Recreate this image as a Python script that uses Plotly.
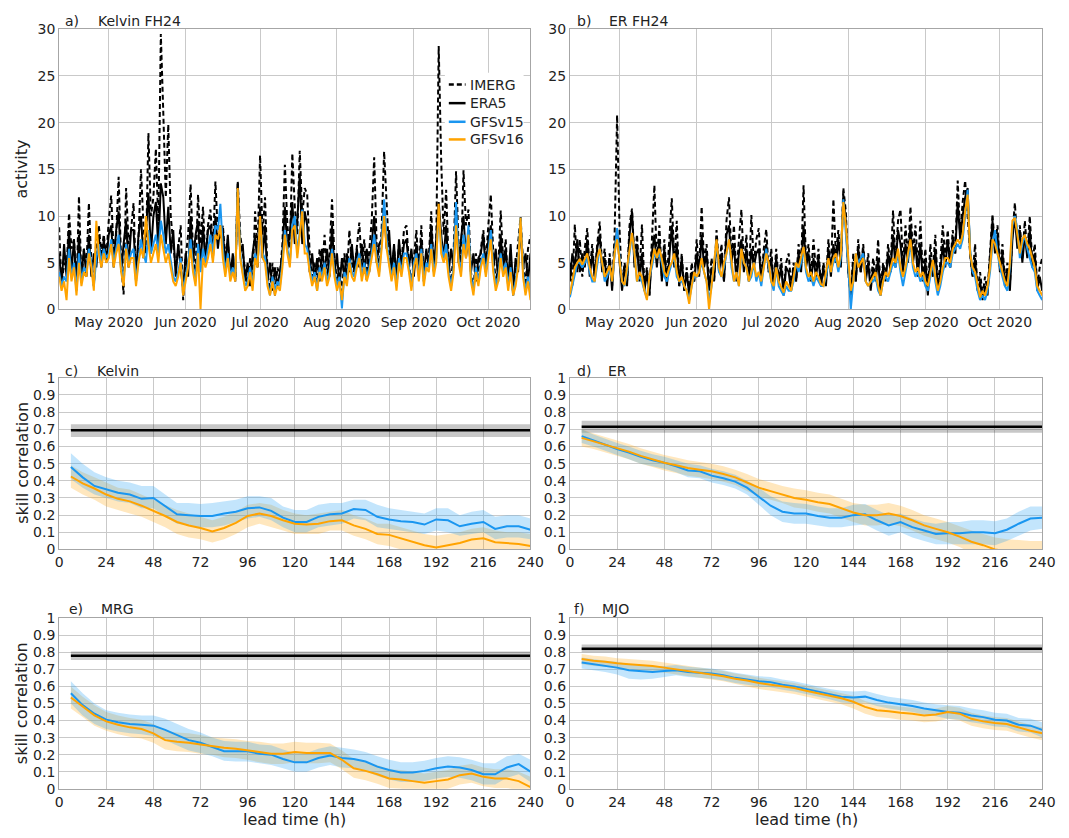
import pandas as pd
import plotly.graph_objects as go

# ---------------- time-series data (daily, starting 2020-04-11) ----------------
start_date = "2020-04-11"
n_days = 191
dates = pd.date_range(start_date, periods=n_days, freq="D")

month_ticks = ["2020-05-01", "2020-06-01", "2020-07-01", "2020-08-01", "2020-09-01", "2020-10-01"]
month_labels = ["May 2020", "Jun 2020", "Jul 2020", "Aug 2020", "Sep 2020", "Oct 2020"]

kelvin_imerg = [
    8.8, 2.5, 5.0, 4.0, 10.3, 6.5, 7.5, 2.0, 12.1, 3.0,
    6.5, 4.5, 11.4, 5.0, 2.5, 7.5, 9.0, 6.0, 8.0, 5.5,
    9.5, 12.2, 6.0, 8.0, 14.2, 5.0, 1.6, 13.0, 7.0, 8.5,
    11.4, 3.0, 7.5, 15.0, 9.0, 6.0, 18.9, 10.0, 12.0, 17.2,
    9.0, 29.5, 21.0, 12.0, 19.8, 10.0, 7.0, 4.5, 6.5, 9.0,
    1.0, 5.5, 8.0, 13.4, 6.0, 4.0, 12.3, 7.0, 11.0, 5.0,
    9.0, 10.7, 6.5, 13.7, 8.0, 7.5, 9.0, 5.5, 7.5, 3.5,
    5.0, 3.2, 13.7, 8.0, 6.0, 4.0, 2.5, 5.5, 3.0, 10.5,
    6.5, 16.5, 8.0, 12.0, 4.0, 2.0, 5.0, 1.5, 4.5, 3.5,
    7.0, 15.5, 9.0, 6.5, 16.7, 11.0, 8.0, 17.0, 10.0, 13.0,
    12.3, 6.0, 3.5, 5.0, 2.5, 6.5, 4.0, 8.0, 3.5, 6.0,
    11.8, 5.5, 3.0, 4.5, 1.5, 6.0, 3.5, 8.5, 5.0, 4.0,
    6.5, 9.3, 4.5, 7.5, 3.0, 6.0, 9.5, 16.3, 7.0, 4.5,
    8.5, 16.9, 11.0, 6.0, 4.0, 6.5, 3.5, 7.0, 5.0, 8.5,
    9.0, 5.0, 2.5, 6.0, 8.5, 4.0, 9.0, 3.0, 6.0, 5.5,
    10.5, 4.0, 7.0, 28.2, 16.0, 8.0, 12.8, 5.0, 3.0, 6.0,
    14.8, 7.0, 5.0, 14.9, 9.0, 10.7, 4.0, 2.0, 6.0, 3.5,
    6.5, 8.5, 5.0, 9.0, 12.3, 6.0, 3.0, 4.5, 10.6, 5.0,
    7.5, 2.5, 6.0, 1.5, 4.5, 7.0, 9.9, 5.0, 2.5, 6.5, 7.9,
]
kelvin_era5 = [
    6.0, 2.5, 7.0, 3.5, 8.5, 4.0, 7.5, 2.5, 8.0, 3.5,
    6.5, 3.5, 8.0, 3.5, 6.0, 4.5, 8.0, 4.5, 7.5, 5.0,
    8.0, 9.0, 4.5, 8.5, 10.5, 4.0, 7.0, 9.5, 4.5, 8.5,
    8.5, 3.5, 8.0, 10.0, 5.5, 8.5, 12.5, 6.0, 10.0, 11.5,
    6.5, 13.5, 12.0, 7.0, 11.0, 6.0, 8.5, 3.5, 7.0, 4.5,
    2.0, 6.0, 3.5, 10.0, 5.0, 8.0, 9.5, 4.5, 9.0, 5.0,
    8.5, 9.0, 5.5, 10.0, 6.5, 9.0, 8.5, 4.5, 8.0, 3.5,
    6.0, 3.0, 13.5, 6.0, 7.0, 3.0, 5.0, 2.5, 6.0, 8.0,
    4.5, 11.0, 5.5, 9.0, 3.0, 5.0, 2.0, 4.5, 2.5, 4.0,
    6.0, 11.0, 6.5, 8.0, 11.5, 7.0, 9.5, 14.5, 7.0, 10.5,
    9.0, 4.0, 6.0, 3.0, 5.5, 3.0, 6.5, 4.0, 6.5, 3.5,
    9.0, 4.0, 6.0, 2.5, 5.5, 3.5, 6.0, 4.0, 7.0, 4.0,
    6.5, 4.5, 7.0, 4.0, 6.5, 4.0, 7.5, 10.0, 5.0, 7.0,
    7.5, 11.0, 6.5, 8.5, 4.0, 7.0, 3.0, 7.5, 4.5, 7.0,
    7.5, 4.5, 6.5, 3.5, 7.0, 4.0, 7.5, 3.5, 6.5, 4.5,
    9.0, 4.5, 7.5, 11.5, 8.0, 5.5, 9.0, 4.0, 6.5, 4.5,
    11.0, 5.0, 7.5, 10.0, 5.5, 8.0, 4.0, 6.0, 3.0, 5.5,
    6.0, 8.0, 4.0, 7.5, 9.0, 4.5, 6.5, 3.0, 8.0, 4.0,
    6.5, 3.0, 7.0, 2.0, 5.5, 4.0, 9.0, 4.5, 6.0, 3.0, 6.0,
]
kelvin_gfsv15 = [
    4.0, 2.5, 3.5, 3.0, 6.5, 3.5, 5.0, 2.0, 6.0, 3.0,
    4.5, 4.0, 6.5, 5.0, 2.5, 5.5, 7.0, 5.0, 6.5, 5.5,
    6.0, 7.5, 5.0, 6.5, 8.0, 4.5, 3.0, 7.0, 5.0, 6.0,
    6.5, 3.0, 5.5, 7.5, 6.0, 5.0, 8.5, 6.0, 7.0, 8.0,
    6.0, 9.5, 8.0, 6.0, 7.0, 5.0, 3.5, 3.0, 4.0, 5.5,
    2.0, 3.5, 5.0, 7.5, 4.5, 3.0, 7.0, 4.0, 6.5, 5.0,
    6.5, 8.0, 6.0, 9.0, 8.5, 11.3, 6.5, 4.0, 6.0, 3.5,
    4.5, 3.5, 12.8, 6.0, 4.0, 2.5, 3.0, 4.5, 2.5, 6.0,
    5.0, 9.5, 6.0, 5.5, 3.0, 1.5, 3.5, 2.0, 3.0, 2.5,
    5.0, 8.5, 6.5, 5.0, 9.0, 10.0, 6.0, 8.5, 10.7, 7.0,
    6.5, 4.5, 3.0, 4.0, 2.0, 4.5, 3.5, 5.0, 3.0, 4.0,
    6.5, 4.0, 2.5, 3.5, 0.1, 4.0, 3.0, 5.5, 4.0, 3.5,
    5.0, 6.0, 3.5, 5.0, 3.5, 4.5, 6.0, 8.0, 5.5, 4.0,
    7.0, 11.8, 7.5, 5.0, 3.5, 5.0, 2.5, 5.5, 4.0, 6.0,
    6.0, 4.5, 2.5, 5.0, 6.0, 3.5, 6.5, 3.0, 5.0, 4.5,
    7.0, 4.0, 5.5, 10.0, 7.0, 5.5, 7.0, 4.0, 2.5, 4.5,
    11.5, 5.5, 4.0, 8.0, 6.0, 9.0, 3.5, 2.0, 4.5, 3.0,
    5.0, 6.0, 4.0, 6.0, 8.5, 4.5, 2.5, 3.5, 6.0, 4.0,
    5.0, 2.5, 4.5, 1.5, 3.0, 5.0, 9.8, 4.0, 2.0, 3.5, 1.5,
]
kelvin_gfsv16 = [
    3.5, 2.0, 3.0, 1.0, 5.5, 3.0, 4.5, 1.5, 5.0, 2.5,
    4.0, 3.5, 6.0, 4.5, 2.0, 9.5, 6.0, 4.5, 6.0, 5.0,
    5.5, 7.0, 4.5, 6.0, 7.0, 4.0, 2.5, 6.5, 4.5, 5.5,
    5.5, 2.5, 5.0, 6.5, 5.5, 10.0, 7.0, 5.0, 6.0, 7.0,
    5.0, 8.0, 6.5, 5.0, 6.0, 4.5, 3.0, 2.5, 3.5, 5.0,
    1.5, 3.0, 4.5, 6.5, 4.0, 2.5, 6.0, 0.0, 5.5, 4.5,
    5.5, 7.0, 5.0, 8.0, 7.5, 9.0, 5.5, 3.5, 5.5, 3.0,
    4.0, 3.0, 13.0, 5.5, 3.5, 2.0, 2.5, 4.0, 2.0, 5.5,
    4.5, 10.0, 5.5, 5.0, 2.5, 1.5, 3.0, 1.5, 2.5, 2.0,
    4.5, 8.0, 6.0, 4.5, 8.5, 9.0, 5.5, 8.0, 10.5, 6.0,
    6.0, 4.0, 2.5, 3.5, 2.0, 4.0, 3.0, 4.5, 2.5, 3.5,
    6.0, 3.5, 2.0, 3.0, 1.0, 3.5, 2.5, 5.0, 3.5, 3.0,
    4.5, 5.5, 3.0, 4.5, 3.0, 4.0, 5.5, 7.0, 5.0, 3.5,
    6.5, 10.0, 6.5, 4.5, 3.0, 4.5, 2.0, 5.0, 3.5, 5.5,
    5.5, 4.0, 2.0, 4.5, 5.5, 3.0, 6.0, 2.5, 4.5, 4.0,
    6.5, 3.5, 5.0, 11.3, 6.0, 5.0, 6.0, 3.5, 2.0, 4.0,
    9.0, 5.0, 3.5, 7.0, 5.5, 8.0, 3.0, 1.5, 4.0, 2.5,
    4.5, 5.5, 3.5, 5.5, 7.5, 4.0, 2.0, 3.0, 5.5, 3.5,
    4.5, 2.0, 4.0, 1.5, 2.5, 4.5, 9.8, 3.5, 1.5, 3.0, 1.0,
]

er_imerg = [
    5.0, 2.5, 9.1, 4.0, 7.5, 3.5, 6.5, 8.7, 4.0, 7.0,
    3.5, 7.0, 9.4, 4.5, 6.5, 3.0, 6.0, 2.5, 8.0, 20.8,
    8.5, 2.5, 5.0, 3.0, 9.0, 10.8, 5.0, 8.0, 3.5, 9.1,
    2.5, 4.5, 1.5, 7.0, 13.3, 5.0, 9.0, 3.5, 7.5, 3.0,
    7.0, 11.9, 5.0, 9.5, 2.5, 6.0, 2.0, 4.5, 1.5, 5.0,
    3.0, 7.5, 4.0, 11.0, 5.0, 7.0, 2.5, 5.5, 3.0, 8.5,
    4.5, 7.0, 3.0, 9.5, 12.0, 5.5, 9.0, 3.5, 7.5, 10.7,
    4.5, 8.0, 3.0, 10.1, 5.0, 7.5, 8.7, 3.0, 6.5, 8.6,
    4.0, 6.5, 2.5, 6.5, 3.0, 5.5, 2.0, 5.0, 6.0, 2.5,
    5.0, 3.0, 7.0, 4.5, 13.3, 5.0, 7.0, 3.5, 7.5, 4.0,
    6.5, 2.5, 5.0, 3.0, 7.5, 4.0, 11.8, 6.0, 8.5, 5.0,
    13.0, 10.5, 4.0, 1.5, 6.0, 3.0, 7.5, 4.0, 7.0, 3.5,
    6.0, 2.5, 5.5, 3.5, 7.5, 2.0, 5.0, 3.5, 7.0, 4.5,
    10.6, 5.0, 9.5, 10.7, 4.5, 9.0, 5.5, 11.0, 6.0, 9.0,
    4.5, 9.5, 3.5, 6.5, 2.0, 7.0, 4.0, 8.0, 2.5, 5.0,
    9.0, 5.5, 8.5, 4.5, 8.5, 6.0, 13.8, 8.0, 11.5, 13.8,
    10.0, 6.0, 3.5, 7.0, 2.0, 4.0, 1.5, 3.5, 2.0, 6.0,
    10.2, 6.5, 9.0, 4.5, 7.0, 3.0, 5.0, 2.5, 8.0, 11.4,
    7.0, 9.0, 5.5, 9.5, 6.0, 10.0, 5.0, 7.0, 2.5, 4.5, 5.5,
]
er_era5 = [
    3.0, 6.0, 4.5, 7.5, 4.0, 6.0, 4.5, 7.5, 3.5, 6.0,
    3.5, 6.5, 8.0, 4.0, 5.5, 2.5, 5.5, 2.0, 6.5, 8.5,
    5.0, 2.0, 4.5, 2.5, 8.0, 10.5, 4.5, 7.0, 3.0, 6.0,
    2.0, 4.0, 1.5, 6.0, 8.0, 4.5, 7.5, 3.0, 6.5, 2.5,
    5.5, 9.0, 4.5, 7.0, 2.5, 5.5, 2.0, 4.0, 1.5, 4.0,
    3.0, 6.0, 3.5, 8.0, 4.5, 6.0, 2.0, 4.5, 3.0, 7.5,
    4.0, 6.0, 3.0, 8.0, 9.0, 5.0, 7.0, 3.0, 6.0, 7.5,
    4.0, 6.5, 3.0, 6.5, 4.5, 6.0, 6.5, 3.0, 5.5, 7.0,
    4.0, 5.5, 2.5, 5.5, 3.0, 4.5, 1.5, 4.5, 4.0, 2.0,
    4.5, 3.0, 6.0, 4.0, 9.0, 4.5, 6.0, 3.0, 5.5, 3.5,
    5.5, 2.5, 4.5, 2.5, 6.5, 3.5, 7.0, 5.0, 7.5, 4.5,
    12.3, 9.5, 4.0, 1.5, 5.0, 3.0, 6.5, 4.0, 6.5, 3.0,
    5.0, 2.0, 4.5, 3.0, 5.5, 1.5, 4.5, 3.0, 6.0, 4.0,
    8.0, 4.5, 8.5, 7.0, 4.0, 7.0, 5.0, 9.0, 5.0, 7.0,
    3.5, 7.0, 3.0, 5.0, 1.5, 5.5, 3.5, 6.5, 2.0, 4.0,
    7.0, 4.5, 7.5, 4.5, 7.5, 6.0, 11.5, 7.5, 10.0, 12.0,
    13.0, 6.0, 3.5, 5.5, 2.0, 3.0, 1.0, 2.5, 1.5, 5.0,
    9.5, 6.0, 8.0, 4.0, 6.0, 2.5, 4.0, 2.0, 7.5, 10.0,
    6.5, 8.5, 5.0, 8.0, 5.5, 8.5, 4.5, 6.0, 2.0, 3.5, 2.0,
]
er_gfsv15 = [
    1.3, 2.5, 4.0, 5.0, 5.0, 4.5, 5.0, 5.5, 4.0, 3.0,
    3.0, 5.0, 6.5, 5.0, 3.0, 3.5, 4.5, 3.0, 6.0, 8.7,
    5.5, 3.0, 2.5, 4.0, 6.0, 8.0, 6.0, 3.0, 3.5, 3.0,
    2.0, 1.2, 3.5, 4.5, 6.0, 5.5, 6.0, 5.0, 3.5, 3.0,
    4.0, 5.0, 5.5, 3.5, 3.0, 3.0, 2.5, 2.0, 1.0, 2.5,
    3.5, 3.5, 4.0, 5.0, 4.0, 3.0, 1.0, 2.5, 5.0, 7.0,
    4.0, 3.5, 4.5, 6.0, 7.5, 4.5, 3.0, 4.0, 2.5, 6.0,
    5.0, 4.5, 3.0, 3.5, 5.0, 3.0, 4.0, 2.5, 4.5, 6.5,
    4.5, 3.0, 2.0, 4.5, 2.5, 2.0, 1.5, 2.5, 2.0, 2.0,
    3.0, 5.0, 4.0, 5.0, 6.5, 4.0, 3.0, 3.5, 2.5, 3.5,
    3.0, 2.5, 2.5, 3.5, 5.0, 4.0, 5.0, 5.5, 4.0, 5.5,
    11.8, 8.5, 4.5, 0.0, 3.0, 6.0, 5.0, 5.5, 6.0, 3.0,
    2.5, 3.0, 3.0, 3.5, 2.0, 1.5, 3.0, 3.5, 3.0, 4.0,
    5.0, 4.5, 6.0, 4.0, 2.5, 4.0, 5.5, 7.0, 4.5, 3.5,
    4.0, 3.0, 3.5, 2.5, 2.0, 3.5, 5.0, 3.0, 1.5, 2.5,
    4.0, 5.0, 5.0, 4.5, 6.0, 6.5, 7.0, 6.5, 7.5, 10.0,
    12.8, 6.5, 4.0, 3.5, 2.0, 1.0, 1.5, 1.0, 2.0, 4.0,
    7.0, 8.5, 6.0, 4.5, 3.5, 2.5, 2.0, 4.5, 9.0, 10.0,
    8.5, 5.5, 7.0, 8.0, 6.5, 5.5, 4.5, 4.0, 2.0, 1.5, 1.0,
]
er_gfsv16 = [
    1.6, 3.0, 4.5, 5.0, 5.4, 4.8, 5.5, 6.0, 4.5, 3.5,
    3.0, 5.5, 6.5, 5.0, 3.5, 4.0, 4.7, 3.0, 6.0, 7.5,
    5.0, 3.0, 2.6, 4.5, 6.5, 8.2, 6.0, 3.0, 4.0, 3.5,
    2.0, 1.0, 3.5, 5.0, 6.5, 5.5, 6.5, 5.4, 4.0, 3.5,
    4.5, 5.0, 6.0, 4.0, 3.0, 3.5, 2.5, 2.0, 0.6, 2.5,
    4.0, 3.5, 4.0, 5.5, 4.0, 3.0, 0.0, 2.5, 5.0, 7.5,
    4.5, 3.5, 5.0, 6.0, 7.5, 5.0, 3.0, 4.0, 2.5, 6.5,
    5.0, 4.5, 3.0, 4.0, 5.0, 3.5, 4.0, 3.0, 4.5, 6.0,
    5.0, 3.0, 2.5, 4.5, 3.0, 2.3, 1.8, 3.0, 2.5, 2.0,
    3.5, 5.0, 4.5, 5.5, 6.7, 4.5, 3.5, 4.0, 3.0, 4.0,
    3.5, 2.7, 2.5, 4.0, 5.5, 4.0, 5.5, 6.0, 4.5, 6.0,
    11.5, 9.0, 5.0, 2.0, 3.0, 6.0, 4.5, 5.0, 5.5, 3.0,
    2.5, 3.0, 3.5, 4.0, 2.5, 1.5, 3.0, 4.0, 3.5, 4.5,
    5.5, 5.0, 6.5, 4.5, 3.5, 4.5, 6.0, 7.5, 5.0, 4.0,
    4.5, 3.5, 4.0, 3.0, 2.5, 4.0, 5.3, 3.5, 2.0, 3.0,
    4.5, 5.5, 5.5, 5.0, 6.5, 7.0, 7.5, 7.0, 8.0, 10.5,
    12.3, 6.0, 4.5, 4.0, 2.5, 1.3, 2.0, 1.5, 2.5, 4.5,
    7.5, 7.0, 6.0, 5.0, 4.0, 3.0, 2.5, 5.0, 9.5, 9.8,
    8.0, 6.0, 7.5, 8.0, 7.0, 6.5, 5.5, 4.5, 2.5, 2.0, 1.5,
]

# ---------------- skill-correlation data (lead times 6..240 h) ----------------
lead_hours = list(range(6, 241, 6))
lead_ticks = [0, 24, 48, 72, 96, 120, 144, 168, 192, 216, 240]
era5_x = [6, 240]

c_era5 = [0.695, 0.695]; c_era5_lo = [0.655, 0.655]; c_era5_hi = [0.73, 0.73]
c_v15 = [0.48,0.42,0.37,0.35,0.33,0.32,0.295,0.30,0.25,0.205,0.20,0.195,0.195,0.21,0.22,0.24,0.245,0.225,0.185,0.16,
         0.16,0.19,0.205,0.21,0.235,0.23,0.19,0.175,0.165,0.16,0.145,0.175,0.17,0.135,0.15,0.16,0.12,0.135,0.135,0.115]
c_v15_hi = [0.56,0.50,0.45,0.42,0.40,0.39,0.37,0.37,0.32,0.27,0.27,0.265,0.27,0.28,0.29,0.31,0.31,0.30,0.25,0.23,
            0.23,0.26,0.27,0.27,0.29,0.29,0.26,0.24,0.23,0.22,0.21,0.24,0.24,0.20,0.22,0.23,0.19,0.20,0.20,0.18]
c_v15_lo = [0.41,0.36,0.32,0.30,0.28,0.27,0.24,0.24,0.19,0.15,0.14,0.13,0.13,0.14,0.16,0.18,0.19,0.17,0.13,0.10,
            0.10,0.13,0.14,0.15,0.18,0.17,0.13,0.12,0.11,0.10,0.09,0.11,0.10,0.08,0.09,0.10,0.06,0.07,0.07,0.06]
c_v16 = [0.425,0.385,0.355,0.32,0.295,0.28,0.255,0.225,0.195,0.16,0.14,0.125,0.105,0.125,0.155,0.195,0.21,0.195,0.17,0.15,
         0.145,0.15,0.165,0.17,0.14,0.12,0.09,0.085,0.065,0.045,0.025,0.012,0.025,0.038,0.058,0.065,0.042,0.035,0.032,0.02]
c_v16_hi = [0.49,0.45,0.42,0.39,0.36,0.35,0.32,0.29,0.26,0.23,0.21,0.19,0.17,0.19,0.22,0.26,0.27,0.26,0.23,0.21,
            0.20,0.21,0.22,0.23,0.20,0.18,0.15,0.15,0.13,0.11,0.09,0.08,0.09,0.10,0.12,0.13,0.11,0.10,0.10,0.09]
c_v16_lo = [0.36,0.32,0.29,0.25,0.23,0.21,0.19,0.16,0.13,0.09,0.07,0.06,0.04,0.06,0.09,0.13,0.15,0.13,0.11,0.09,
            0.09,0.09,0.11,0.11,0.08,0.06,0.03,0.02,0.0,-0.02,-0.04,-0.05,-0.04,-0.03,-0.01,0.0,-0.02,-0.03,-0.03,-0.04]

d_era5 = [0.715, 0.715]; d_era5_lo = [0.68, 0.68]; d_era5_hi = [0.75, 0.75]
d_v15 = [0.66,0.635,0.61,0.585,0.565,0.54,0.52,0.505,0.485,0.46,0.455,0.43,0.415,0.395,0.36,0.31,0.255,0.22,0.21,0.21,
         0.195,0.185,0.185,0.2,0.205,0.17,0.14,0.16,0.13,0.11,0.09,0.095,0.095,0.1,0.1,0.095,0.115,0.15,0.18,0.185]
d_v15_hi = [0.70,0.67,0.645,0.62,0.60,0.575,0.555,0.54,0.52,0.50,0.49,0.47,0.455,0.435,0.40,0.36,0.31,0.28,0.27,0.265,
            0.25,0.24,0.24,0.26,0.265,0.23,0.20,0.21,0.18,0.16,0.15,0.16,0.16,0.17,0.17,0.165,0.18,0.22,0.25,0.25]
d_v15_lo = [0.62,0.60,0.575,0.55,0.525,0.50,0.485,0.47,0.45,0.42,0.415,0.39,0.375,0.355,0.32,0.26,0.20,0.16,0.15,0.15,
            0.14,0.13,0.13,0.14,0.145,0.11,0.08,0.10,0.07,0.05,0.03,0.03,0.03,0.03,0.03,0.025,0.05,0.08,0.11,0.12]
d_v16 = [0.65,0.63,0.61,0.59,0.57,0.545,0.525,0.505,0.49,0.475,0.465,0.455,0.44,0.42,0.39,0.36,0.34,0.32,0.30,0.29,
         0.275,0.265,0.24,0.215,0.20,0.20,0.21,0.195,0.17,0.14,0.12,0.10,0.075,0.045,0.025,0.0,-0.01,-0.02,-0.03,-0.04]
d_v16_hi = [0.70,0.675,0.655,0.635,0.615,0.59,0.57,0.55,0.535,0.52,0.51,0.50,0.485,0.465,0.44,0.41,0.39,0.37,0.355,0.345,
            0.33,0.32,0.295,0.27,0.26,0.26,0.27,0.255,0.23,0.20,0.18,0.16,0.135,0.11,0.09,0.07,0.06,0.055,0.05,0.05]
d_v16_lo = [0.60,0.585,0.565,0.545,0.525,0.50,0.48,0.46,0.445,0.43,0.42,0.41,0.395,0.375,0.34,0.31,0.29,0.27,0.245,0.235,
            0.22,0.21,0.185,0.16,0.14,0.14,0.15,0.135,0.11,0.08,0.06,0.04,0.015,-0.02,-0.04,-0.07,-0.08,-0.09,-0.1,-0.11]

e_era5 = [0.78, 0.78]; e_era5_lo = [0.755, 0.755]; e_era5_hi = [0.805, 0.805]
e_v15 = [0.56,0.49,0.44,0.405,0.39,0.38,0.375,0.37,0.345,0.315,0.285,0.27,0.245,0.22,0.22,0.22,0.205,0.20,0.175,0.155,
         0.155,0.18,0.195,0.18,0.175,0.16,0.13,0.11,0.095,0.095,0.105,0.12,0.13,0.125,0.11,0.085,0.085,0.125,0.145,0.10]
e_v15_hi = [0.63,0.56,0.50,0.46,0.445,0.435,0.43,0.43,0.41,0.38,0.35,0.33,0.30,0.28,0.275,0.275,0.26,0.255,0.23,0.21,
            0.21,0.235,0.25,0.24,0.23,0.215,0.19,0.17,0.155,0.155,0.165,0.18,0.19,0.185,0.17,0.15,0.15,0.19,0.205,0.17]
e_v15_lo = [0.50,0.43,0.38,0.35,0.335,0.325,0.32,0.31,0.285,0.255,0.225,0.21,0.19,0.165,0.16,0.16,0.15,0.14,0.12,0.10,
            0.10,0.125,0.14,0.125,0.12,0.105,0.075,0.055,0.04,0.04,0.045,0.06,0.07,0.065,0.05,0.025,0.025,0.065,0.085,0.04]
e_v16 = [0.535,0.48,0.43,0.395,0.375,0.36,0.35,0.325,0.285,0.275,0.27,0.26,0.25,0.24,0.235,0.225,0.215,0.205,0.205,0.215,
         0.21,0.21,0.21,0.17,0.12,0.105,0.085,0.06,0.055,0.045,0.035,0.045,0.055,0.08,0.09,0.07,0.06,0.06,0.045,0.01]
e_v16_hi = [0.60,0.54,0.49,0.45,0.43,0.415,0.405,0.38,0.34,0.33,0.325,0.315,0.30,0.295,0.29,0.28,0.275,0.265,0.265,0.275,
            0.27,0.27,0.265,0.225,0.175,0.16,0.14,0.115,0.11,0.10,0.09,0.10,0.11,0.135,0.145,0.125,0.115,0.115,0.10,0.07]
e_v16_lo = [0.47,0.42,0.37,0.34,0.32,0.305,0.295,0.27,0.23,0.22,0.215,0.205,0.20,0.185,0.18,0.17,0.155,0.145,0.145,0.155,
            0.15,0.15,0.155,0.115,0.065,0.05,0.03,0.005,0.0,-0.01,-0.02,-0.01,0.0,0.025,0.035,0.015,0.005,0.005,-0.01,-0.05]

f_era5 = [0.82, 0.82]; f_era5_lo = [0.80, 0.80]; f_era5_hi = [0.845, 0.845]
f_v15 = [0.74,0.73,0.72,0.71,0.695,0.69,0.685,0.69,0.695,0.685,0.68,0.675,0.665,0.65,0.64,0.63,0.625,0.61,0.60,0.585,
         0.57,0.555,0.54,0.535,0.54,0.52,0.505,0.495,0.485,0.47,0.46,0.45,0.445,0.43,0.42,0.405,0.40,0.375,0.37,0.345]
f_v15_hi = [0.77,0.76,0.75,0.745,0.73,0.725,0.72,0.72,0.725,0.715,0.71,0.705,0.695,0.68,0.67,0.66,0.655,0.64,0.63,0.615,
            0.60,0.585,0.575,0.57,0.575,0.555,0.54,0.53,0.52,0.505,0.495,0.49,0.485,0.47,0.46,0.445,0.44,0.415,0.41,0.39]
f_v15_lo = [0.705,0.695,0.685,0.67,0.645,0.64,0.645,0.655,0.665,0.655,0.65,0.645,0.635,0.62,0.61,0.60,0.595,0.58,0.57,0.555,
            0.54,0.525,0.505,0.50,0.505,0.485,0.47,0.46,0.45,0.435,0.425,0.41,0.405,0.39,0.38,0.365,0.36,0.335,0.33,0.30]
f_v16 = [0.76,0.75,0.745,0.735,0.73,0.725,0.72,0.71,0.70,0.69,0.68,0.67,0.66,0.645,0.635,0.62,0.61,0.60,0.59,0.575,
         0.56,0.545,0.53,0.51,0.48,0.46,0.455,0.445,0.44,0.43,0.435,0.45,0.44,0.41,0.395,0.385,0.38,0.36,0.34,0.325]
f_v16_hi = [0.79,0.78,0.775,0.765,0.76,0.755,0.75,0.74,0.73,0.72,0.71,0.70,0.69,0.675,0.665,0.65,0.64,0.63,0.62,0.605,
            0.59,0.575,0.56,0.545,0.515,0.495,0.49,0.48,0.475,0.465,0.47,0.485,0.475,0.445,0.43,0.42,0.415,0.395,0.375,0.36]
f_v16_lo = [0.73,0.72,0.715,0.705,0.70,0.695,0.69,0.68,0.67,0.66,0.65,0.64,0.63,0.615,0.60,0.585,0.575,0.565,0.555,0.54,
            0.525,0.51,0.495,0.47,0.44,0.42,0.415,0.405,0.40,0.39,0.395,0.41,0.40,0.37,0.355,0.345,0.34,0.32,0.30,0.285]

legend_names = ["IMERG", "ERA5", "GFSv15", "GFSv16"]

# ---------------- styling ----------------
FONT = "DejaVu Sans"
C_V15 = "#1a96f0"
C_V16 = "#ffa300"
BAND_V15 = "rgba(40,160,245,0.28)"
BAND_V16 = "rgba(255,170,20,0.28)"
BAND_ERA = "rgba(0,0,0,0.22)"
GRID = "#c9c9c9"
FRAME = "#a6a6a6"
TXT = "#222222"
IMERG_DASH = "5px,3px"

W, H = 1069, 838
xl = [56 / W, 535 / W]
xr = [575 / W, 1055 / W]
row_y = {
    1: [1 - 307.3 / H, 1 - 21.7 / H],
    2: [1 - 552 / H, 1 - 377 / H],
    3: [1 - 796 / H, 1 - 622 / H],
}

fig = go.Figure()

def axis_common():
    return dict(showline=True, linecolor=FRAME, linewidth=1, mirror=True,
                showgrid=True, gridcolor=GRID, gridwidth=1, zeroline=False,
                ticks="", tickfont=dict(family=FONT, size=14, color=TXT))

# time series panels
ts_panels = [
    (1, kelvin_imerg, kelvin_era5, kelvin_gfsv15, kelvin_gfsv16),
    (2, er_imerg, er_era5, er_gfsv15, er_gfsv16),
]
for idx, imerg, era5, v15, v16 in ts_panels:
    xa = "x" if idx == 1 else "x%d" % idx
    ya = "y" if idx == 1 else "y%d" % idx
    fig.add_trace(go.Scatter(x=dates, y=imerg, mode="lines", name="IMERG", xaxis=xa, yaxis=ya,
                             line=dict(color="black", width=2, dash=IMERG_DASH), showlegend=False))
    fig.add_trace(go.Scatter(x=dates, y=era5, mode="lines", name="ERA5", xaxis=xa, yaxis=ya,
                             line=dict(color="black", width=2), showlegend=False))
    fig.add_trace(go.Scatter(x=dates, y=v15, mode="lines", name="GFSv15", xaxis=xa, yaxis=ya,
                             line=dict(color=C_V15, width=2), showlegend=False))
    fig.add_trace(go.Scatter(x=dates, y=v16, mode="lines", name="GFSv16", xaxis=xa, yaxis=ya,
                             line=dict(color=C_V16, width=2), showlegend=False))

# skill panels
skill_panels = [
    (3, c_era5, c_era5_lo, c_era5_hi, c_v15, c_v15_lo, c_v15_hi, c_v16, c_v16_lo, c_v16_hi),
    (4, d_era5, d_era5_lo, d_era5_hi, d_v15, d_v15_lo, d_v15_hi, d_v16, d_v16_lo, d_v16_hi),
    (5, e_era5, e_era5_lo, e_era5_hi, e_v15, e_v15_lo, e_v15_hi, e_v16, e_v16_lo, e_v16_hi),
    (6, f_era5, f_era5_lo, f_era5_hi, f_v15, f_v15_lo, f_v15_hi, f_v16, f_v16_lo, f_v16_hi),
]
for idx, er, er_lo, er_hi, v15, v15_lo, v15_hi, v16, v16_lo, v16_hi in skill_panels:
    xa, ya = "x%d" % idx, "y%d" % idx
    fig.add_trace(go.Scatter(x=era5_x + era5_x[::-1], y=er_hi + er_lo[::-1], fill="toself",
                             fillcolor=BAND_ERA, line=dict(width=0), mode="lines",
                             xaxis=xa, yaxis=ya, showlegend=False, hoverinfo="skip"))
    fig.add_trace(go.Scatter(x=lead_hours + lead_hours[::-1], y=v16_hi + v16_lo[::-1], fill="toself",
                             fillcolor=BAND_V16, line=dict(width=0), mode="lines",
                             xaxis=xa, yaxis=ya, showlegend=False, hoverinfo="skip"))
    fig.add_trace(go.Scatter(x=lead_hours + lead_hours[::-1], y=v15_hi + v15_lo[::-1], fill="toself",
                             fillcolor=BAND_V15, line=dict(width=0), mode="lines",
                             xaxis=xa, yaxis=ya, showlegend=False, hoverinfo="skip"))
    fig.add_trace(go.Scatter(x=era5_x, y=er, mode="lines", line=dict(color="black", width=2.5),
                             xaxis=xa, yaxis=ya, showlegend=False, name="ERA5"))
    fig.add_trace(go.Scatter(x=lead_hours, y=v15, mode="lines", line=dict(color=C_V15, width=2),
                             xaxis=xa, yaxis=ya, showlegend=False, name="GFSv15"))
    fig.add_trace(go.Scatter(x=lead_hours, y=v16, mode="lines", line=dict(color=C_V16, width=2),
                             xaxis=xa, yaxis=ya, showlegend=False, name="GFSv16"))

layout = dict(
    width=W, height=H, margin=dict(l=0, r=0, t=0, b=0),
    paper_bgcolor="white", plot_bgcolor="white",
    font=dict(family=FONT, color=TXT), showlegend=False,
)

domains = {1: (xl, row_y[1]), 2: (xr, row_y[1]), 3: (xl, row_y[2]), 4: (xr, row_y[2]),
           5: (xl, row_y[3]), 6: (xr, row_y[3])}
for idx in range(1, 7):
    xd, yd = domains[idx]
    xk = "xaxis" if idx == 1 else "xaxis%d" % idx
    yk = "yaxis" if idx == 1 else "yaxis%d" % idx
    anchor_x = "y" if idx == 1 else "y%d" % idx
    anchor_y = "x" if idx == 1 else "x%d" % idx
    xa_d = axis_common(); ya_d = axis_common()
    xa_d.update(domain=xd, anchor=anchor_x)
    ya_d.update(domain=yd, anchor=anchor_y)
    if idx <= 2:
        xa_d.update(type="date", range=[dates[0], dates[-1]], tickmode="array",
                    tickvals=month_ticks, ticktext=month_labels)
        ya_d.update(range=[0, 30], tickmode="array", tickvals=[0, 5, 10, 15, 20, 25, 30])
    else:
        xa_d.update(range=[0, 240], tickmode="array", tickvals=lead_ticks)
        ya_d.update(range=[0, 1], tickmode="array", tickvals=[i / 10 for i in range(11)],
                    ticktext=["0", "0.1", "0.2", "0.3", "0.4", "0.5", "0.6", "0.7", "0.8", "0.9", "1"])
    layout[xk] = xa_d
    layout[yk] = ya_d

fig.update_layout(**layout)

# ---- legend box in panel a (white box, short line samples, labels) ----
def px_x(v):
    return v / W

def px_y(v):
    return 1 - v / H

fig.add_shape(type="rect", xref="paper", yref="paper", layer="above",
              x0=px_x(448), x1=px_x(528), y0=px_y(144), y1=px_y(66),
              fillcolor="white", line=dict(width=0))
legend_styles = [("black", IMERG_DASH), ("black", "solid"), (C_V15, "solid"), (C_V16, "solid")]
legend_rows = [78, 97, 116, 134]
for name, (col, dash), yy in zip(legend_names, legend_styles, legend_rows):
    fig.add_shape(type="line", xref="paper", yref="paper", layer="above",
                  x0=px_x(452), x1=px_x(469), y0=px_y(yy), y1=px_y(yy),
                  line=dict(color=col, width=2.5, dash=dash))
    fig.add_annotation(text=name, x=px_x(472), y=px_y(yy), xref="paper", yref="paper",
                       xanchor="left", yanchor="middle", showarrow=False,
                       font=dict(family=FONT, size=14, color=TXT))

# panel titles
titles = [
    ("a)", "Kelvin FH24", 60, 93, 13),
    ("b)", "ER FH24", 580, 613, 13),
    ("c)", "Kelvin", 60, 92, 370),
    ("d)", "ER", 580, 612, 370),
    ("e)", "MRG", 64, 97, 613),
    ("f)", "MJO", 577, 606, 613),
]
for lab, name, x1, x2, yy in titles:
    for txt, xx in ((lab, x1), (name, x2)):
        fig.add_annotation(text=txt, x=px_x(xx), y=px_y(yy), xref="paper", yref="paper",
                           xanchor="left", yanchor="middle", showarrow=False,
                           font=dict(family=FONT, size=14, color=TXT))

# axis titles
fig.add_annotation(text="activity", x=px_x(18), y=px_y(164), xref="paper", yref="paper",
                   textangle=-90, showarrow=False, xanchor="center", yanchor="middle",
                   font=dict(family=FONT, size=16, color=TXT))
for yy in (464, 709):
    fig.add_annotation(text="skill correlation", x=px_x(18), y=px_y(yy), xref="paper", yref="paper",
                       textangle=-90, showarrow=False, xanchor="center", yanchor="middle",
                       font=dict(family=FONT, size=16, color=TXT))
for xx in (295, 815):
    fig.add_annotation(text="lead time (h)", x=px_x(xx), y=px_y(827), xref="paper", yref="paper",
                       showarrow=False, xanchor="center", yanchor="middle",
                       font=dict(family=FONT, size=16, color=TXT))

fig.write_html("out.html")
